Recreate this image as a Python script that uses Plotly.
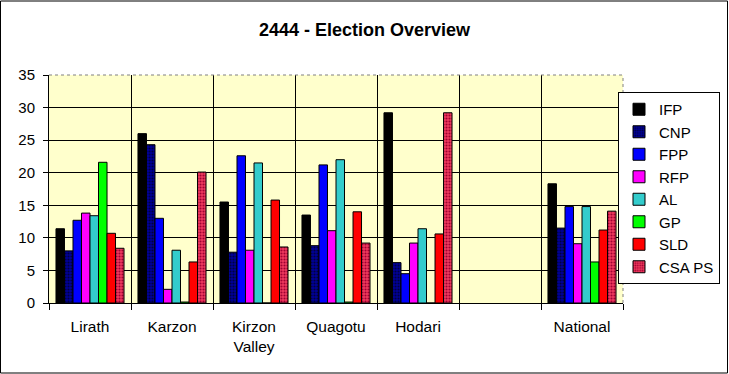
import plotly.graph_objects as go

categories = ["Lirath", "Karzon", "Kirzon<br>Valley", "Quagotu", "Hodari", " ", "National"]
parties = ["IFP", "CNP", "FPP", "RFP", "AL", "GP", "SLD", "CSA PS"]

ifp = [11.4, 26.0, 15.5, 13.5, 29.2, None, 18.3]
cnp = [8.0, 24.3, 7.8, 8.8, 6.2, None, 11.5]
fpp = [12.7, 13.0, 22.6, 21.2, 4.5, None, 14.8]
rfp = [13.8, 2.1, 8.1, 11.1, 9.2, None, 9.1]
al = [13.4, 8.1, 21.5, 22.0, 11.4, None, 14.8]
gp = [21.6, 0.15, 0.0, 0.15, 0.0, None, 6.3]
sld = [10.7, 6.3, 15.8, 14.0, 10.6, None, 11.2]
csa_ps = [8.4, 20.1, 8.6, 9.2, 29.2, None, 14.1]

series = [ifp, cnp, fpp, rfp, al, gp, sld, csa_ps]
colors = ["#000000", "#000080", "#0000FF", "#FF00FF", "#33CCCC", "#00FF00", "#FF0000", "#E8365E"]
y_ticks = [0, 5, 10, 15, 20, 25, 30, 35]

fig = go.Figure()
for name, vals, col in zip(parties, series, colors):
    marker = dict(color=col, line=dict(color="#000000", width=1))
    if name == "CNP":
        marker["pattern"] = dict(shape=".", size=3, solidity=0.4, fgcolor="#000040", bgcolor="#000099", fillmode="replace")
    if name == "CSA PS":
        marker["pattern"] = dict(shape=".", size=3, solidity=0.4, fgcolor="#A00030", bgcolor="#F03A5E", fillmode="replace")
    fig.add_trace(go.Bar(name=name, x=categories, y=vals, marker=marker))

fig.update_layout(
    width=729, height=374,
    barmode="group", bargap=0.17, bargroupgap=0,
    paper_bgcolor="#FFFFFF", plot_bgcolor="#FFFFCC",
    margin=dict(l=49, r=106, t=75, b=71, autoexpand=False),
    font=dict(family="Arial, Liberation Sans, sans-serif", size=15, color="#000000"),
    title=dict(text="<b>2444 - Election Overview</b>", x=0.5, xref="container", xanchor="center",
               y=0.92, yanchor="middle", font=dict(size=18, color="#000000")),
    legend=dict(x=(720 - 49) / 574, xanchor="right", xref="paper", y=(303 - 92) / 228, yanchor="top",
                bgcolor="#FFFFFF", bordercolor="#000000", borderwidth=1,
                font=dict(size=15), traceorder="normal", itemwidth=30),
    showlegend=True,
)
fig.update_xaxes(type="category", tickson="boundaries", showgrid=True, gridcolor="#000000", gridwidth=1,
                 ticks="outside", ticklen=6, tickcolor="#000000", showline=True, linecolor="#000000",
                 linewidth=1, tickfont=dict(size=15.5), automargin=False, ticklabelstandoff=9)
fig.update_yaxes(range=[0, 35], tickvals=y_ticks, showgrid=True, gridcolor="#000000", gridwidth=1,
                 ticks="outside", ticklen=5, tickcolor="#000000", showline=True, linecolor="#000000",
                 linewidth=1, zeroline=False, tickfont=dict(size=15), automargin=False, ticklabelstandoff=5)
# plot-area border (top and right) as in the reference
fig.add_shape(type="line", xref="paper", yref="paper", x0=0, x1=1, y0=1, y1=1,
              line=dict(color="#808080", width=1, dash="dot"), layer="above")
fig.add_shape(type="line", xref="paper", yref="paper", x0=1, x1=1, y0=0, y1=1,
              line=dict(color="#808080", width=1, dash="dot"), layer="above")
# chart-area outer border
fig.add_shape(type="rect", xref="paper", yref="paper", x0=-48.5/574, x1=1+104.5/574, y0=-70/228, y1=1+74/228,
              line=dict(color="#000000", width=1), fillcolor="rgba(0,0,0,0)", layer="above")

fig.write_html("out.html", config={"displayModeBar": False},
               post_script="document.body.style.margin='0px';document.body.style.padding='0px';")
